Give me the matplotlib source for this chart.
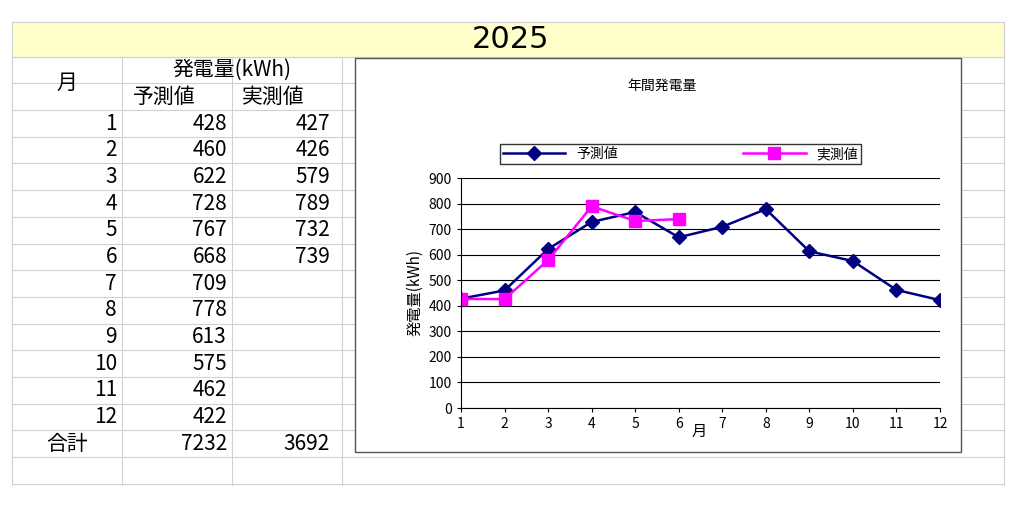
import matplotlib
matplotlib.use("Agg")
import matplotlib.pyplot as plt
from matplotlib.patches import Rectangle

months = list(range(1, 13))
predicted = [428, 460, 622, 728, 767, 668, 709, 778, 613, 575, 462, 422]
actual = [427, 426, 579, 789, 732, 739]
total_pred = 7232
total_act = 3692
title = "2025"

plt.rcParams["font.family"] = "Noto Sans CJK JP"
W, H = 1024, 513
fig = plt.figure(figsize=(W/100, H/100), dpi=100)
bg = fig.add_axes([0, 0, 1, 1])
bg.set_xlim(0, W); bg.set_ylim(H, 0); bg.axis("off")

grid = "#d0d0d0"
bg.add_patch(Rectangle((12, 22), 992, 35, facecolor="#ffffcc", edgecolor=grid, lw=0.8))
bg.text(510, 39, title, ha="center", va="center", fontsize=22, family="DejaVu Sans")

cols = [12, 122, 232, 342]
rows = [57, 83, 110] + [110 + 26.7*i for i in range(1, 15)]
for y in rows:
    bg.plot([12, 1004], [y, y], color=grid, lw=0.8)
for x in cols:
    bg.plot([x, x], [57, 485], color=grid, lw=0.8)
bg.plot([1004, 1004], [22, 485], color=grid, lw=0.8)

fs = 15
bg.text(67, 83, "月", ha="center", va="center", fontsize=fs)
bg.text(232, 70, "発電量(kWh)", ha="center", va="center", fontsize=fs)
bg.text(164, 97, "予測値", ha="center", va="center", fontsize=fs)
bg.text(273, 97, "実測値", ha="center", va="center", fontsize=fs)
for i, m in enumerate(months):
    yc = 110 + 26.7*i + 13.5
    bg.text(117, yc, str(m), ha="right", va="center", fontsize=fs)
    bg.text(227, yc, str(predicted[i]), ha="right", va="center", fontsize=fs)
    if i < len(actual):
        bg.text(330, yc, str(actual[i]), ha="right", va="center", fontsize=fs)
yc = 110 + 26.7*12 + 13.5
bg.text(67, yc, "合計", ha="center", va="center", fontsize=fs)
bg.text(227, yc, str(total_pred), ha="right", va="center", fontsize=fs)
bg.text(330, yc, str(total_act), ha="right", va="center", fontsize=fs)

bg.add_patch(Rectangle((355, 58), 606, 394, facecolor="white", edgecolor="#555555", lw=1, zorder=3))
bg.text(662, 86, "年間発電量", ha="center", va="center", fontsize=10, zorder=4)

ax = fig.add_axes([461/W, 1-408/H, (940-461)/W, (408-178)/H], zorder=5)
ax.plot(months, predicted, color="#000080", marker="D", ms=7, lw=1.8, label="予測値")
ax.plot(months[:len(actual)], actual, color="#ff00ff", marker="s", ms=8, lw=1.8, label="実測値")
ax.set_xlim(1, 12); ax.set_ylim(0, 900)
ax.set_yticks(range(0, 901, 100)); ax.set_xticks(months)
ax.grid(axis="y", color="black", lw=0.8)
ax.tick_params(labelsize=10, length=3)
for s in ["top", "right"]:
    ax.spines[s].set_visible(False)
ax.set_ylabel("発電量(kWh)", fontsize=11)
ax.text(6.48, -0.1, "月", transform=ax.get_xaxis_transform(), ha="center", va="center", fontsize=11)
ax.legend(loc="center", bbox_to_anchor=((499+862)/2/W, 1-154/H), bbox_transform=fig.transFigure,
          ncol=2, fontsize=10, frameon=True, fancybox=False, edgecolor="black",
          columnspacing=9, handlelength=4.5, borderpad=0.2)
fig.savefig("out.png", dpi=100)
